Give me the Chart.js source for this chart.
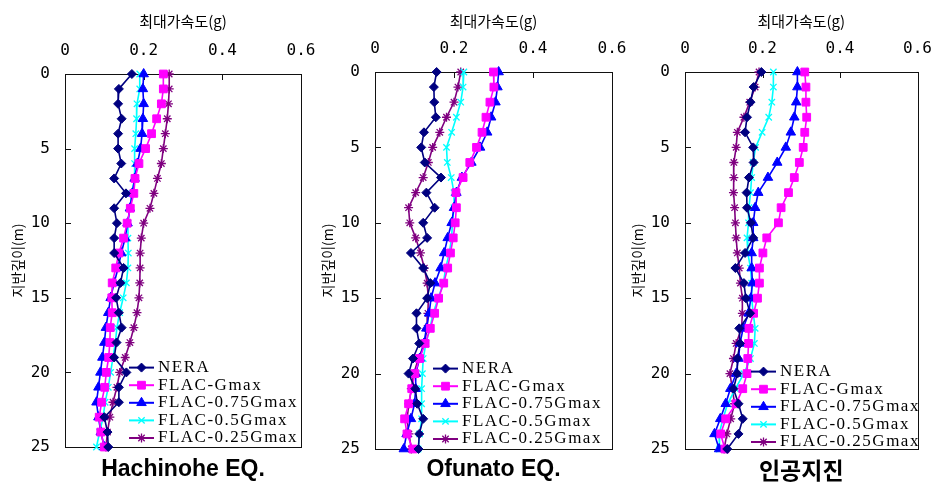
<!DOCTYPE html>
<html>
<head>
<meta charset="utf-8">
<script src="https://cdn.jsdelivr.net/npm/chart.js@4.4.1/dist/chart.umd.min.js"></script>
<style>
  html, body { margin:0; padding:0; background:#fff; overflow:hidden; }
  body { width:938px; height:483px; position:relative; }
  canvas { position:absolute; top:0; }
</style>
</head>
<body>
<canvas id="c1" width="325" height="483" style="left:0px"></canvas>
<canvas id="c2" width="325" height="483" style="left:310px"></canvas>
<canvas id="c3" width="318" height="483" style="left:620px"></canvas>
<script>
// depth (m)
const depth = [0,1,2,3,4,5,6,7,8,9,10,11,12,13,14,15,16,17,18,19,20,21,22,23,24,25];
const seriesNames = ['NERA','FLAC-Gmax','FLAC-0.75Gmax','FLAC-0.5Gmax','FLAC-0.25Gmax'];
const xTitle = '최대가속도(g)';
const yTitle = '지반깊이(m)';

// Hachinohe EQ. - peak accel (g)
const hachNera = [0.170,0.137,0.135,0.144,0.135,0.135,0.143,0.125,0.155,0.125,0.132,0.125,0.125,0.149,0.141,0.130,0.137,0.144,0.131,0.125,0.156,0.137,0.137,0.100,0.108,0.110];
const hachGmax = [0.250,0.250,0.245,0.233,0.220,0.205,0.188,0.178,0.175,0.166,0.158,0.149,0.137,0.129,0.120,0.119,0.120,0.115,0.114,0.111,0.105,0.101,0.093,0.087,0.091,0.100];
const hach075 = [0.200,0.198,0.200,0.198,0.196,0.192,0.184,0.177,0.171,0.165,0.159,0.153,0.143,0.135,0.125,0.116,0.110,0.104,0.100,0.095,0.090,0.085,0.080,0.085,0.091,0.100];
const hach050 = [0.190,0.190,0.183,0.182,0.180,0.177,0.177,0.177,0.170,0.165,0.160,0.160,0.161,0.160,0.156,0.148,0.139,0.132,0.128,0.122,0.116,0.110,0.102,0.097,0.088,0.080];
const hach025 = [0.265,0.265,0.263,0.260,0.255,0.250,0.245,0.235,0.226,0.216,0.200,0.194,0.191,0.191,0.190,0.188,0.183,0.175,0.165,0.153,0.139,0.132,0.122,0.114,0.108,0.104];

// Ofunato EQ.
const ofuNera = [0.156,0.149,0.150,0.154,0.124,0.117,0.126,0.167,0.130,0.151,0.122,0.132,0.091,0.122,0.140,0.132,0.105,0.105,0.112,0.096,0.085,0.102,0.107,0.122,0.112,0.110];
const ofuGmax = [0.300,0.301,0.291,0.281,0.271,0.257,0.240,0.223,0.205,0.206,0.203,0.198,0.191,0.184,0.174,0.161,0.151,0.140,0.127,0.113,0.101,0.093,0.085,0.075,0.081,0.096];
const ofu075 = [0.313,0.310,0.305,0.294,0.284,0.266,0.244,0.220,0.206,0.200,0.194,0.184,0.175,0.166,0.152,0.142,0.137,0.130,0.124,0.113,0.103,0.103,0.100,0.091,0.080,0.073];
const ofu050 = [0.225,0.223,0.217,0.206,0.194,0.181,0.183,0.193,0.200,0.200,0.196,0.194,0.188,0.179,0.173,0.160,0.147,0.139,0.129,0.122,0.120,0.118,0.118,0.118,0.113,0.109];
const ofu025 = [0.217,0.210,0.200,0.181,0.164,0.146,0.135,0.122,0.103,0.085,0.088,0.103,0.115,0.125,0.132,0.135,0.134,0.132,0.125,0.110,0.098,0.092,0.086,0.081,0.086,0.092];

// 인공지진
const artNera = [0.197,0.177,0.169,0.160,0.155,0.176,0.177,0.165,0.159,0.160,0.170,0.176,0.155,0.130,0.152,0.157,0.168,0.140,0.142,0.135,0.135,0.125,0.138,0.149,0.138,0.109];
const artGmax = [0.309,0.312,0.312,0.314,0.309,0.305,0.295,0.282,0.267,0.248,0.241,0.211,0.201,0.192,0.192,0.187,0.177,0.165,0.164,0.162,0.160,0.149,0.132,0.105,0.092,0.103];
const art075 = [0.290,0.290,0.287,0.282,0.273,0.260,0.238,0.214,0.189,0.181,0.176,0.176,0.172,0.172,0.174,0.170,0.164,0.150,0.142,0.138,0.132,0.117,0.105,0.091,0.076,0.088];
const art050 = [0.228,0.228,0.224,0.216,0.199,0.182,0.176,0.172,0.169,0.165,0.164,0.160,0.162,0.169,0.172,0.172,0.176,0.181,0.179,0.169,0.152,0.130,0.110,0.098,0.088,0.089];
const art025 = [0.191,0.181,0.167,0.152,0.135,0.132,0.126,0.126,0.125,0.128,0.130,0.132,0.135,0.140,0.143,0.148,0.148,0.146,0.132,0.125,0.116,0.122,0.128,0.118,0.108,0.101];

// series style: colour, point style, radius
const STYLES = [
  { color:'#000080', point:'rectRot',  r:4.5 },
  { color:'#ff00ff', point:'rect',     r:5.5 },
  { color:'#0000ff', point:'triangle', r:5.5 },
  { color:'#00ffff', point:'crossRot', r:4.5 },
  { color:'#800080', point:'star',     r:4.5 }
];

const MONO = "'DejaVu Sans Mono', monospace";
const KR = "'Noto Sans CJK KR', sans-serif";

// frame box + inner tick marks
const framePlugin = {
  id:'frame',
  beforeDatasetsDraw(chart) {
    const { ctx, chartArea:a, scales:{ x, y } } = chart;
    ctx.save();
    ctx.strokeStyle = '#111';
    ctx.lineWidth = 1;
    ctx.strokeRect(Math.round(a.left)+0.5, Math.round(a.top)+0.5, Math.round(a.width), Math.round(a.height));
    ctx.beginPath();
    x.ticks.forEach(t => {
      const px = Math.round(x.getPixelForValue(t.value))+0.5;
      ctx.moveTo(px, a.top); ctx.lineTo(px, a.top+6);
    });
    y.ticks.forEach(t => {
      const py = Math.round(y.getPixelForValue(t.value))+0.5;
      ctx.moveTo(a.left, py); ctx.lineTo(a.left+6, py);
    });
    ctx.stroke();
    ctx.restore();
  }
};

// legend drawn inside the plot, lower right
const legendPlugin = {
  id:'boxLegend',
  afterDraw(chart, args, opts) {
    const { ctx, chartArea:a } = chart;
    ctx.save();
    ctx.font = "17px 'Liberation Serif', serif";
    ctx.letterSpacing = '1.5px';
    ctx.textBaseline = 'middle';
    ctx.fillStyle = '#000';
    const n = chart.data.datasets.length;
    chart.data.datasets.forEach((ds, i) => {
      const yy = a.bottom - opts.bottom - (n-1-i)*17.6;
      const x0 = a.left + opts.left;
      ctx.strokeStyle = ds.borderColor;
      ctx.lineWidth = 2;
      ctx.beginPath(); ctx.moveTo(x0, yy); ctx.lineTo(x0+25, yy); ctx.stroke();
      ctx.fillStyle = ds.pointBackgroundColor;
      ctx.strokeStyle = ds.pointBorderColor;
      ctx.lineWidth = ds.pointBorderWidth;
      Chart.helpers.drawPoint(ctx, { pointStyle: ds.pointStyle, radius: ds.pointRadius, rotation:0, borderWidth: ds.pointBorderWidth }, x0+12.5, yy);
      ctx.fillStyle = '#000';
      ctx.fillText(ds.label, x0+29, yy);
    });
    ctx.restore();
  }
};

function makePanel(canvasId, title, series, geo) {
  const datasets = series.map((vals, i) => {
    const s = STYLES[i];
    return {
      label: seriesNames[i],
      data: vals.map((v, k) => ({ x: v, y: depth[k] })),
      borderColor: s.color,
      backgroundColor: s.color,
      borderWidth: 1.6,
      pointStyle: s.point,
      pointRadius: s.r,
      pointBackgroundColor: s.color,
      pointBorderColor: s.color,
      pointBorderWidth: (s.point === 'crossRot' || s.point === 'star') ? 1.3 : 1,
      tension: 0,
      clip: false
    };
  });
  return new Chart(document.getElementById(canvasId), {
    type:'line',
    data:{ datasets },
    plugins:[framePlugin, legendPlugin],
    options:{
      responsive:false,
      animation:false,
      layout:{ padding:{ left:0, right:geo.padRight, top:0, bottom:0 } },
      scales:{
        x:{
          type:'linear', position:'top', min:0, max:0.6,
          grid:{ display:false },
          border:{ display:false },
          ticks:{ stepSize:0.2, color:'#000', padding:6, font:{ family:MONO, size:16 } },
          title:{ display:true, text:xTitle, color:'#000', padding:{ top:12, bottom:0 }, font:{ family:KR, size:15 } },
          afterFit(s) { s.height = geo.top; }
        },
        y:{
          type:'linear', reverse:true, min:0, max:25,
          grid:{ display:false },
          border:{ display:false },
          ticks:{ stepSize:5, color:'#000', padding:7, font:{ family:MONO, size:16 } },
          title:{ display:true, text:yTitle, color:'#000', padding:{ top:9, bottom:0 }, font:{ family:KR, size:14 } },
          afterFit(s) { s.width = 65; }
        }
      },
      plugins:{
        legend:{ display:false },
        tooltip:{ enabled:false },
        title:{
          display:true, text:title, position:'bottom', fullSize:false, color:'#000',
          font:{ family:geo.titleFont, size:23, weight:'bold', lineHeight:1 },
          padding:{ top:geo.titlePadTop, bottom:1.5 }
        },
        boxLegend:{ left:geo.legLeft, bottom:geo.legBottom }
      }
    }
  });
}

makePanel('c1', 'Hachinohe EQ.', [hachNera, hachGmax, hach075, hach050, hach025],
  { top:74, padRight:24, titlePadTop:11.5, titleFont:"'Liberation Sans', Arial, sans-serif", legLeft:64, legBottom:9 });
makePanel('c2', 'Ofunato EQ.', [ofuNera, ofuGmax, ofu075, ofu050, ofu025],
  { top:72, padRight:23, titlePadTop:9.5, titleFont:"'Liberation Sans', Arial, sans-serif", legLeft:58, legBottom:10 });
makePanel('c3', '인공지진', [artNera, artGmax, art075, art050, art025],
  { top:72, padRight:16, titlePadTop:9.5, titleFont:KR, legLeft:66, legBottom:7 });
</script>
</body>
</html>
